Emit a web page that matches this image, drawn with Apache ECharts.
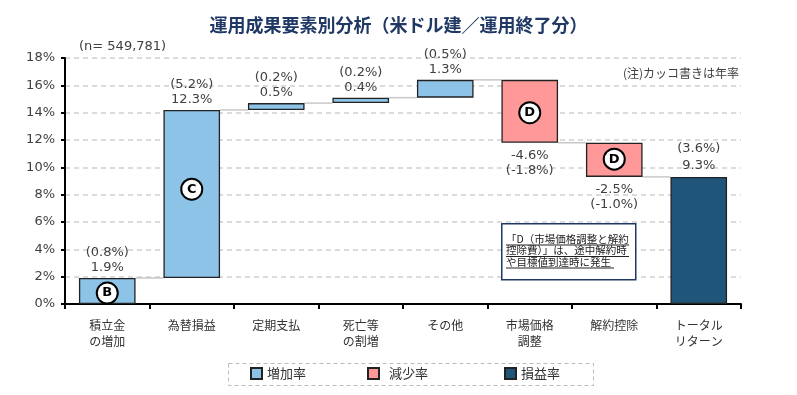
<!DOCTYPE html>
<html>
<head>
<meta charset="utf-8">
<script src="https://cdn.jsdelivr.net/npm/echarts@6/dist/echarts.min.js"></script>
<style>html,body{margin:0;padding:0;background:#fff;}#main{width:797px;height:395px;}</style>
</head>
<body>
<div id="main"></div>
<script>
const categories = ['積立金\nの増加', '為替損益', '定期支払', '死亡等\nの割増', 'その他', '市場価格\n調整', '解約控除', 'トータル\nリターン'];
const changes = [1.9, 12.3, 0.5, 0.4, 1.3, -4.6, -2.5, 9.3];
const annualRates = ['0.8', '5.2', '0.2', '0.2', '0.5', '-1.8', '-1.0', '3.6'];
const kinds = ['inc', 'inc', 'inc', 'inc', 'inc', 'dec', 'dec', 'total'];
const markers = ['B', 'C', '', '', '', 'D', 'D', ''];
const markerLevels = [0.8, 8.4, null, null, null, 14.0, 10.6, null];
const yTicks = { min: 0, max: 18, interval: 2 };

const FONT_NUM = '"DejaVu Sans", "Noto Sans CJK JP", sans-serif';
const FONT_JP = '"Noto Sans CJK JP", sans-serif';

// derived waterfall geometry
const base = [], incData = [], decData = [], totData = [], cum = [];
let level = 0;
changes.forEach((v, i) => {
  if (kinds[i] === 'total') {
    base.push(0); totData.push(v); incData.push('-'); decData.push('-');
    level = v;
  } else if (v >= 0) {
    base.push(level); incData.push(v); decData.push('-'); totData.push('-');
    level += v;
  } else {
    level += v;
    base.push(level); decData.push(-v); incData.push('-'); totData.push('-');
  }
  cum.push(Math.round(level * 10) / 10);
});
const connectors = [];
for (let i = 0; i < categories.length - 1; i++) connectors.push([i, cum[i]]);
const markerData = [];
markers.forEach((m, i) => {
  if (m) markerData.push({ value: [i, markerLevels[i]], name: m });
});

const labelCommon = { show: true, fontFamily: FONT_NUM, fontSize: 13, color: '#404040', lineHeight: 15 };

const chart = echarts.init(document.getElementById('main'));
chart.setOption({
  animation: false,
  title: {
    text: '運用成果要素別分析（米ドル建／運用終了分）',
    left: 'center', top: 11,
    textStyle: { fontFamily: FONT_JP, fontSize: 18, fontWeight: 'bold', color: '#1F3864' }
  },
  grid: { left: 65, right: 56, top: 58, bottom: 91 },
  legend: [
    { data: ['増加率'], left: 250, top: 367, padding: 0, itemWidth: 11, itemHeight: 11, icon: 'rect',
      textStyle: { fontFamily: FONT_JP, fontSize: 13, color: '#333' } },
    { data: ['減少率'], left: 367, top: 367, padding: 0, itemWidth: 11, itemHeight: 11, icon: 'rect',
      textStyle: { fontFamily: FONT_JP, fontSize: 13, color: '#333', padding: [0, 0, 0, 5] } },
    { data: ['損益率'], left: 504, top: 367, padding: 0, itemWidth: 11, itemHeight: 11, icon: 'rect',
      textStyle: { fontFamily: FONT_JP, fontSize: 13, color: '#333', padding: [0, 0, 0, 0] } }
  ],
  xAxis: {
    type: 'category', data: categories,
    axisLine: { lineStyle: { color: '#000', width: 2 } },
    axisTick: { show: true, alignWithLabel: false, interval: 0, length: 5, lineStyle: { color: '#000', width: 2 } },
    axisLabel: { interval: 0, margin: 13, fontFamily: FONT_JP, fontSize: 12, color: '#333', lineHeight: 16 }
  },
  yAxis: {
    type: 'value', min: yTicks.min, max: yTicks.max, interval: yTicks.interval,
    axisLine: { show: true, lineStyle: { color: '#000', width: 2 } },
    axisTick: { show: true, length: 4, lineStyle: { color: '#000', width: 2 } },
    axisLabel: { formatter: '{value}%', margin: 10, fontFamily: FONT_NUM, fontSize: 13, color: '#404040' },
    splitLine: { show: true, lineStyle: { color: '#d0d0d0', width: 1.5, type: [5, 4] } }
  },
  series: [
    {
      type: 'custom', name: 'connector', silent: true, z: 1,
      data: connectors,
      renderItem: function (params, api) {
        const i = api.value(0), v = api.value(1);
        const bw = api.size([1, 0])[0] * 0.67;
        const p1 = api.coord([i, v]);
        const p2 = api.coord([i + 1, v]);
        return {
          type: 'line',
          shape: { x1: p1[0] + bw / 2, y1: p1[1], x2: p2[0] - bw / 2, y2: p2[1] },
          style: { stroke: '#c8c8c8', lineWidth: 1.5 }
        };
      }
    },
    {
      type: 'bar', name: 'base', stack: 'wf', silent: true, barCategoryGap: '33%', z: 2,
      itemStyle: { color: 'transparent' }, emphasis: { disabled: true },
      data: base
    },
    {
      type: 'bar', name: '増加率', stack: 'wf', z: 2,
      itemStyle: { color: '#8DC3E6', borderColor: '#222', borderWidth: 1.3 },
      label: Object.assign({}, labelCommon, {
        position: 'top', distance: 3,
        formatter: p => '(' + annualRates[p.dataIndex] + '%)\n' + changes[p.dataIndex].toFixed(1) + '%'
      }),
      data: incData
    },
    {
      type: 'bar', name: '減少率', stack: 'wf', z: 2,
      itemStyle: { color: '#FF9999', borderColor: '#222', borderWidth: 1.3 },
      label: Object.assign({}, labelCommon, {
        position: 'bottom', distance: 5,
        formatter: p => changes[p.dataIndex].toFixed(1) + '%\n(' + annualRates[p.dataIndex] + '%)'
      }),
      data: decData
    },
    {
      type: 'bar', name: '損益率', stack: 'wf', z: 2,
      itemStyle: { color: '#1F5578', borderColor: '#222', borderWidth: 1.3 },
      label: Object.assign({}, labelCommon, {
        position: 'top', distance: 3, lineHeight: 17,
        formatter: p => '(' + annualRates[p.dataIndex] + '%)\n' + changes[p.dataIndex].toFixed(1) + '%'
      }),
      data: totData
    },
    {
      type: 'scatter', name: 'marker', z: 5, silent: true,
      symbol: 'circle', symbolSize: 21,
      itemStyle: { color: '#fff', borderColor: '#000', borderWidth: 2, opacity: 1 },
      label: { show: true, position: 'inside', formatter: p => p.name, fontFamily: '"DejaVu Sans", sans-serif',
        fontWeight: 'bold', fontSize: 13, color: '#000' },
      data: markerData
    }
  ],
  graphic: [
    { type: 'text', left: 79, top: 40, style: { text: '(n= 549,781)', fontFamily: FONT_NUM, fontSize: 13, fill: '#404040' } },
    { type: 'text', left: 623, top: 67, style: { text: '(注)カッコ書きは年率', fontFamily: FONT_JP, fontSize: 12, fill: '#404040' } },
    { type: 'rect', left: 501, top: 223, shape: { width: 134, height: 56 },
      style: { fill: '#fff', stroke: '#1F3864', lineWidth: 1.5 }, z: 10 },
    { type: 'text', left: 506, top: 233, z: 11,
      style: { text: '「D（市場価格調整と解約\n控除費）」は、途中解約時\nや目標値到達時に発生', fontFamily: FONT_JP,
        fontSize: 10.5, lineHeight: 11.5, fill: '#222' } },
    { type: 'line', z: 11, shape: { x1: 506, y1: 245, x2: 629, y2: 245 }, style: { stroke: '#222', lineWidth: 1 } },
    { type: 'line', z: 11, shape: { x1: 506, y1: 256.5, x2: 629, y2: 256.5 }, style: { stroke: '#222', lineWidth: 1 } },
    { type: 'line', z: 11, shape: { x1: 506, y1: 268, x2: 614, y2: 268 }, style: { stroke: '#222', lineWidth: 1 } },
    { type: 'rect', left: 226, top: 361, shape: { width: 365, height: 22 },
      style: { fill: 'none', stroke: '#bcbcbc', lineWidth: 1, lineDash: [4, 3] } }
  ]
});
</script>
</body>
</html>
